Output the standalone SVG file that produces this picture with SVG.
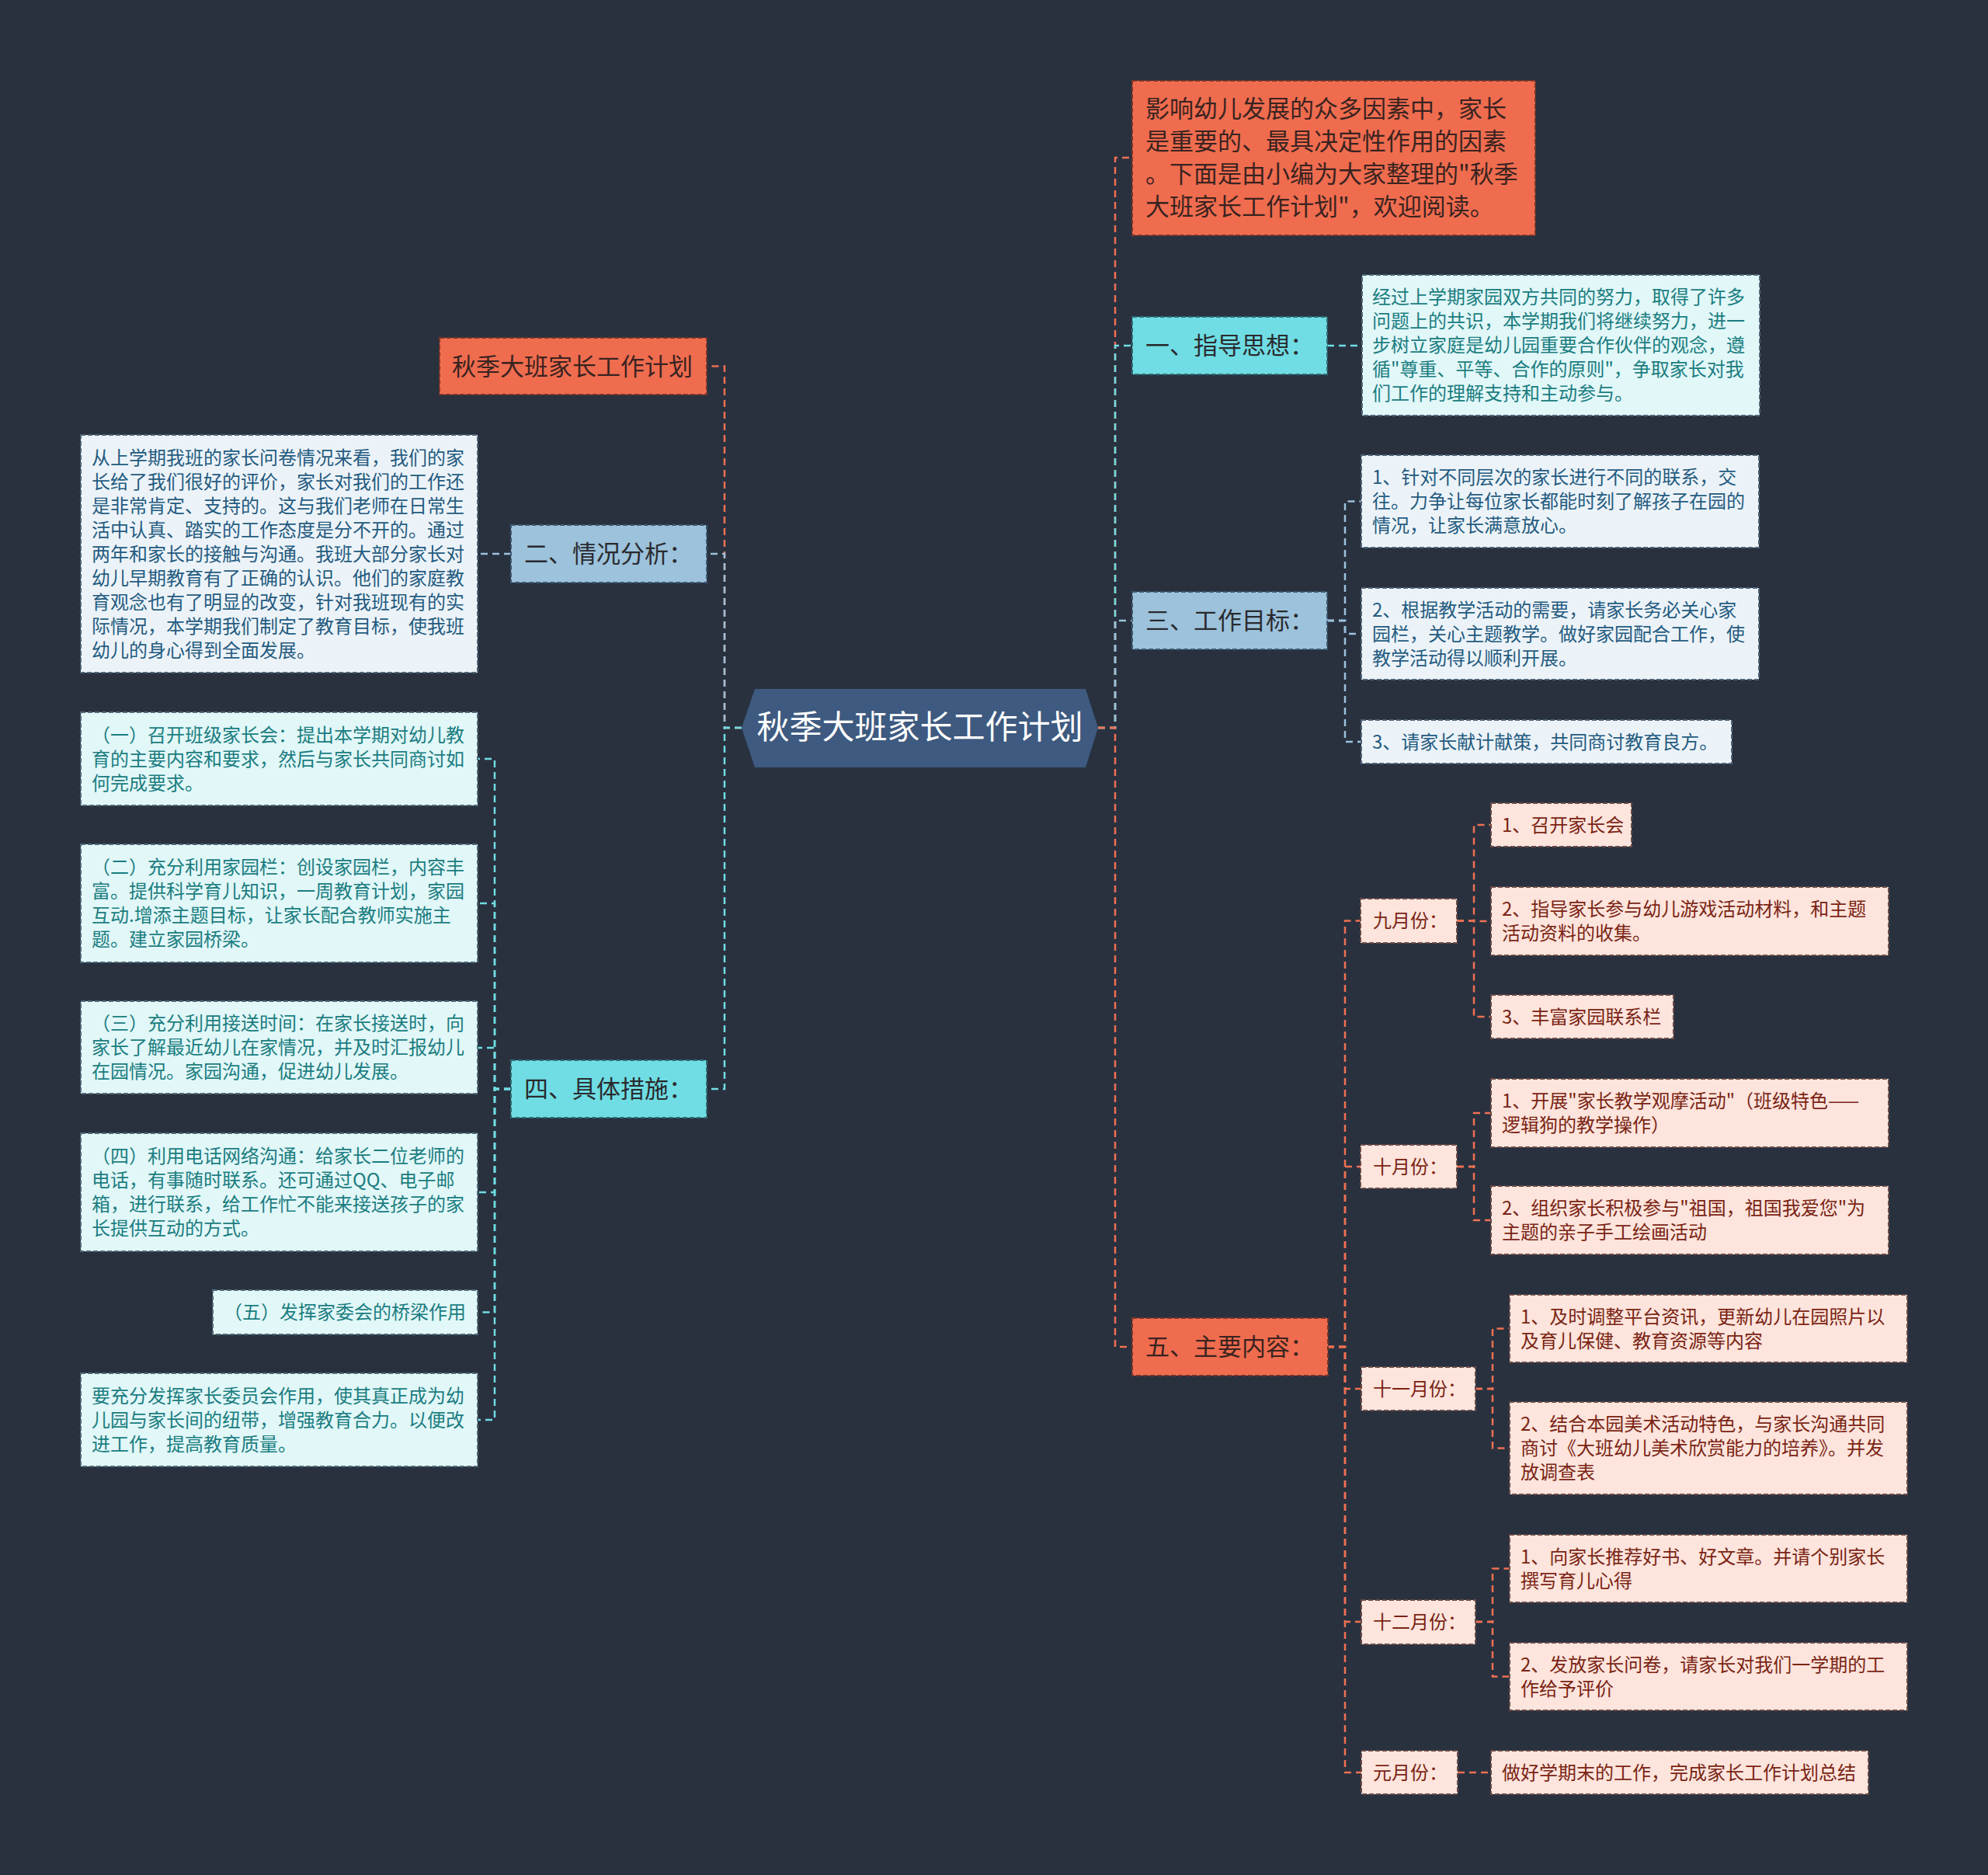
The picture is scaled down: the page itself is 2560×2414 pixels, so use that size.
<svg xmlns="http://www.w3.org/2000/svg" width="2560" height="2414" viewBox="0 0 2560 2414">
<style>
text{font-family:'Noto Sans CJK SC','Noto Sans',sans-serif}
.c{fill:none;stroke-width:2.5;stroke-dasharray:9 6}
.co{stroke:#ee7052}.cc{stroke:#6fdde3}.cb{stroke:#9cc2dc}
.box{stroke-width:2;stroke-dasharray:6 3}
.org{fill:#ef6c4f;stroke:#7c3526}
.cy{fill:#6fdde3;stroke:#2f6d75}
.bl{fill:#9cc2dc;stroke:#3d5a72}
.lc{fill:#e1f7f8;stroke:#4f6a78}
.lb{fill:#ecf3f8;stroke:#4f6478}
.pe{fill:#fde4dc;stroke:#6a4a46}
.t1{font-size:31px;fill:#2a2a2e}
.to{font-size:31px;fill:#3a2320}
.t2{font-size:24px}
.tc{fill:#1b7d80}.tb{fill:#245b80}.tp{fill:#7a2414}
</style>
<rect width="2560" height="2414" fill="#29313f"/>
<g id="connectors">
<path class="c co" d="M955 937H933V471.5H910"/>
<path class="c cb" d="M955 937H933V713H910"/>
<path class="c cc" d="M955 937H933V1402H910"/>
<path class="c cb" d="M658 713H615"/>
<path class="c cc" d="M658 1402H637V977H615"/>
<path class="c cc" d="M658 1402H637V1163H615"/>
<path class="c cc" d="M658 1402H637V1349H615"/>
<path class="c cc" d="M658 1402H637V1535H615"/>
<path class="c cc" d="M658 1402H637V1689.5H615"/>
<path class="c cc" d="M658 1402H637V1828H615"/>
<path class="c co" d="M1414 937H1436V203H1458"/>
<path class="c cc" d="M1414 937H1436V445H1458"/>
<path class="c cb" d="M1414 937H1436V799H1458"/>
<path class="c co" d="M1414 937H1436V1734H1458"/>
<path class="c cc" d="M1709 445H1754"/>
<path class="c cb" d="M1709 799H1732V645.5H1753"/>
<path class="c cb" d="M1709 799H1732V816H1753"/>
<path class="c cb" d="M1709 799H1732V955H1753"/>
<path class="c co" d="M1709 1734H1732V1185.5H1752"/>
<path class="c co" d="M1709 1734H1732V1502H1752"/>
<path class="c co" d="M1709 1734H1732V1788H1753"/>
<path class="c co" d="M1709 1734H1732V2088H1753"/>
<path class="c co" d="M1709 1734H1732V2282H1753"/>
<path class="c co" d="M1876 1185.5H1898V1062H1920"/>
<path class="c co" d="M1876 1185.5H1898V1186H1920"/>
<path class="c co" d="M1876 1185.5H1898V1309H1920"/>
<path class="c co" d="M1876 1502H1898V1433H1920"/>
<path class="c co" d="M1876 1502H1898V1571H1920"/>
<path class="c co" d="M1900 1788H1922V1710.5H1944"/>
<path class="c co" d="M1900 1788H1922V1864.5H1944"/>
<path class="c co" d="M1900 2088H1922V2019.5H1944"/>
<path class="c co" d="M1900 2088H1922V2158.5H1944"/>
<path class="c co" d="M1877 2282H1920"/>
</g>
<g id="root">
<polygon points="955,937 972,887 1398,887 1414,937 1398,988 972,988" fill="#3e5a80"/>
<text x="1184.5" y="951" text-anchor="middle" font-size="42" fill="#ffffff">秋季大班家长工作计划</text>
</g>
<g id="n-title">
<rect class="box org" x="566" y="435" width="344" height="73"/>
<text class="to" x="582" y="483">秋季大班家长工作计划</text>
</g>
<g id="n-er">
<rect class="box bl" x="658" y="676" width="252" height="74"/>
<text class="t1" x="675" y="724">二、情况分析：</text>
</g>
<g id="n-er-1">
<rect class="box lb" x="104" y="560" width="511" height="306"/>
<text class="t2 tb"><tspan x="118" y="597.5">从上学期我班的家长问卷情况来看，我们的家</tspan><tspan x="118" y="628.5">长给了我们很好的评价，家长对我们的工作还</tspan><tspan x="118" y="659.5">是非常肯定、支持的。这与我们老师在日常生</tspan><tspan x="118" y="690.5">活中认真、踏实的工作态度是分不开的。通过</tspan><tspan x="118" y="721.5">两年和家长的接触与沟通。我班大部分家长对</tspan><tspan x="118" y="752.5">幼儿早期教育有了正确的认识。他们的家庭教</tspan><tspan x="118" y="783.5">育观念也有了明显的改变，针对我班现有的实</tspan><tspan x="118" y="814.5">际情况，本学期我们制定了教育目标，使我班</tspan><tspan x="118" y="845.5">幼儿的身心得到全面发展。</tspan></text>
</g>
<g id="n-si">
<rect class="box cy" x="658" y="1365" width="252" height="74"/>
<text class="t1" x="675" y="1413">四、具体措施：</text>
</g>
<g id="n-si-1">
<rect class="box lc" x="104" y="917" width="511" height="120"/>
<text class="t2 tc"><tspan x="118" y="954.5">（一）召开班级家长会：提出本学期对幼儿教</tspan><tspan x="118" y="985.5">育的主要内容和要求，然后与家长共同商讨如</tspan><tspan x="118" y="1016.5">何完成要求。</tspan></text>
</g>
<g id="n-si-2">
<rect class="box lc" x="104" y="1087" width="511" height="152"/>
<text class="t2 tc"><tspan x="118" y="1125">（二）充分利用家园栏：创设家园栏，内容丰</tspan><tspan x="118" y="1156">富。提供科学育儿知识，一周教育计划，家园</tspan><tspan x="118" y="1187">互动.增添主题目标，让家长配合教师实施主</tspan><tspan x="118" y="1218">题。建立家园桥梁。</tspan></text>
</g>
<g id="n-si-3">
<rect class="box lc" x="104" y="1289" width="511" height="119"/>
<text class="t2 tc"><tspan x="118" y="1326">（三）充分利用接送时间：在家长接送时，向</tspan><tspan x="118" y="1357">家长了解最近幼儿在家情况，并及时汇报幼儿</tspan><tspan x="118" y="1388">在园情况。家园沟通，促进幼儿发展。</tspan></text>
</g>
<g id="n-si-4">
<rect class="box lc" x="104" y="1459" width="511" height="152"/>
<text class="t2 tc"><tspan x="118" y="1497">（四）利用电话网络沟通：给家长二位老师的</tspan><tspan x="118" y="1528">电话，有事随时联系。还可通过QQ、电子邮</tspan><tspan x="118" y="1559">箱，进行联系，给工作忙不能来接送孩子的家</tspan><tspan x="118" y="1590">长提供互动的方式。</tspan></text>
</g>
<g id="n-si-5">
<rect class="box lc" x="274" y="1661" width="341" height="57"/>
<text class="t2 tc" x="288" y="1698">（五）发挥家委会的桥梁作用</text>
</g>
<g id="n-si-6">
<rect class="box lc" x="104" y="1768" width="511" height="120"/>
<text class="t2 tc"><tspan x="118" y="1805.5">要充分发挥家长委员会作用，使其真正成为幼</tspan><tspan x="118" y="1836.5">儿园与家长间的纽带，增强教育合力。以便改</tspan><tspan x="118" y="1867.5">进工作，提高教育质量。</tspan></text>
</g>
<g id="n-intro">
<rect class="box org" x="1458" y="104" width="519" height="199"/>
<text class="to"><tspan x="1475" y="151">影响幼儿发展的众多因素中，家长</tspan><tspan x="1475" y="193">是重要的、最具决定性作用的因素</tspan><tspan x="1475" y="235">。下面是由小编为大家整理的"秋季</tspan><tspan x="1475" y="277">大班家长工作计划"，欢迎阅读。</tspan></text>
</g>
<g id="n-yi">
<rect class="box cy" x="1458" y="408" width="251" height="74"/>
<text class="t1" x="1475" y="456">一、指导思想：</text>
</g>
<g id="n-yi-1">
<rect class="box lc" x="1754" y="354" width="512" height="181"/>
<text class="t2 tc"><tspan x="1767" y="391">经过上学期家园双方共同的努力，取得了许多</tspan><tspan x="1767" y="422">问题上的共识，本学期我们将继续努力，进一</tspan><tspan x="1767" y="453">步树立家庭是幼儿园重要合作伙伴的观念，遵</tspan><tspan x="1767" y="484">循"尊重、平等、合作的原则"，争取家长对我</tspan><tspan x="1767" y="515">们工作的理解支持和主动参与。</tspan></text>
</g>
<g id="n-san">
<rect class="box bl" x="1458" y="762" width="251" height="74"/>
<text class="t1" x="1475" y="810">三、工作目标：</text>
</g>
<g id="n-san-1">
<rect class="box lb" x="1753" y="586" width="512" height="119"/>
<text class="t2 tb"><tspan x="1767" y="623">1、针对不同层次的家长进行不同的联系，交</tspan><tspan x="1767" y="654">往。力争让每位家长都能时刻了解孩子在园的</tspan><tspan x="1767" y="685">情况，让家长满意放心。</tspan></text>
</g>
<g id="n-san-2">
<rect class="box lb" x="1753" y="757" width="512" height="118"/>
<text class="t2 tb"><tspan x="1767" y="793.5">2、根据教学活动的需要，请家长务必关心家</tspan><tspan x="1767" y="824.5">园栏，关心主题教学。做好家园配合工作，使</tspan><tspan x="1767" y="855.5">教学活动得以顺利开展。</tspan></text>
</g>
<g id="n-san-3">
<rect class="box lb" x="1753" y="927" width="477" height="56"/>
<text class="t2 tb" x="1767" y="963.5">3、请家长献计献策，共同商讨教育良方。</text>
</g>
<g id="n-wu">
<rect class="box org" x="1458" y="1697" width="252" height="74"/>
<text class="to" x="1475" y="1745">五、主要内容：</text>
</g>
<g id="m-9">
<rect class="box pe" x="1752" y="1157" width="124" height="57"/>
<text class="t2 tp" x="1768" y="1194">九月份：</text>
</g>
<g id="m-9-1">
<rect class="box pe" x="1920" y="1034" width="181" height="56"/>
<text class="t2 tp" x="1934" y="1070.5">1、召开家长会</text>
</g>
<g id="m-9-2">
<rect class="box pe" x="1920" y="1142" width="512" height="88"/>
<text class="t2 tp"><tspan x="1934" y="1179">2、指导家长参与幼儿游戏活动材料，和主题</tspan><tspan x="1934" y="1210">活动资料的收集。</tspan></text>
</g>
<g id="m-9-3">
<rect class="box pe" x="1920" y="1281" width="235" height="56"/>
<text class="t2 tp" x="1934" y="1317.5">3、丰富家园联系栏</text>
</g>
<g id="m-10">
<rect class="box pe" x="1752" y="1474" width="124" height="56"/>
<text class="t2 tp" x="1768" y="1510.5">十月份：</text>
</g>
<g id="m-10-1">
<rect class="box pe" x="1920" y="1389" width="512" height="88"/>
<text class="t2 tp"><tspan x="1934" y="1426">1、开展"家长教学观摩活动"（班级特色——</tspan><tspan x="1934" y="1457">逻辑狗的教学操作）</tspan></text>
</g>
<g id="m-10-2">
<rect class="box pe" x="1920" y="1527" width="512" height="88"/>
<text class="t2 tp"><tspan x="1934" y="1564">2、组织家长积极参与"祖国，祖国我爱您"为</tspan><tspan x="1934" y="1595">主题的亲子手工绘画活动</tspan></text>
</g>
<g id="m-11">
<rect class="box pe" x="1753" y="1760" width="147" height="56"/>
<text class="t2 tp" x="1768" y="1796.5">十一月份：</text>
</g>
<g id="m-11-1">
<rect class="box pe" x="1944" y="1667" width="512" height="87"/>
<text class="t2 tp"><tspan x="1958" y="1703.5">1、及时调整平台资讯，更新幼儿在园照片以</tspan><tspan x="1958" y="1734.5">及育儿保健、教育资源等内容</tspan></text>
</g>
<g id="m-11-2">
<rect class="box pe" x="1944" y="1805" width="512" height="119"/>
<text class="t2 tp"><tspan x="1958" y="1842">2、结合本园美术活动特色，与家长沟通共同</tspan><tspan x="1958" y="1873">商讨《大班幼儿美术欣赏能力的培养》。并发</tspan><tspan x="1958" y="1904">放调查表</tspan></text>
</g>
<g id="m-12">
<rect class="box pe" x="1753" y="2060" width="147" height="57"/>
<text class="t2 tp" x="1768" y="2096.5">十二月份：</text>
</g>
<g id="m-12-1">
<rect class="box pe" x="1944" y="1976" width="512" height="87"/>
<text class="t2 tp"><tspan x="1958" y="2012.5">1、向家长推荐好书、好文章。并请个别家长</tspan><tspan x="1958" y="2043.5">撰写育儿心得</tspan></text>
</g>
<g id="m-12-2">
<rect class="box pe" x="1944" y="2115" width="512" height="87"/>
<text class="t2 tp"><tspan x="1958" y="2151.5">2、发放家长问卷，请家长对我们一学期的工</tspan><tspan x="1958" y="2182.5">作给予评价</tspan></text>
</g>
<g id="m-1">
<rect class="box pe" x="1753" y="2254" width="124" height="56"/>
<text class="t2 tp" x="1768" y="2290.5">元月份：</text>
</g>
<g id="m-1-1">
<rect class="box pe" x="1920" y="2254" width="486" height="56"/>
<text class="t2 tp" x="1934" y="2290.5">做好学期末的工作，完成家长工作计划总结</text>
</g>
</svg>
